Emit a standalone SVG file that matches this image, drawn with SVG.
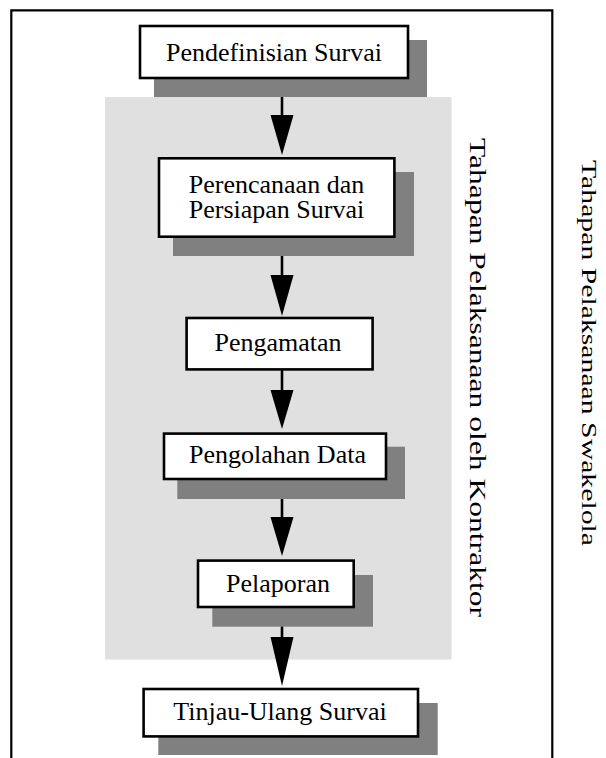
<svg xmlns="http://www.w3.org/2000/svg" width="606" height="758" viewBox="0 0 606 758">
  <style>
    .box { fill: #ffffff; stroke: #000000; stroke-width: 2.6; }
    .shadow { fill: #808080; }
    .label { font-family: "Liberation Serif", "Times New Roman", serif; font-size: 26px; fill: #000000; text-anchor: middle; }
    .side { font-family: "Liberation Serif", "Times New Roman", serif; fill: #000000; }
    .conn { stroke: #000000; stroke-width: 2.6; fill: none; }
    .head { fill: #000000; }
  </style>

  <rect width="606" height="758" fill="#ffffff"/>

  <!-- outer frame, open at the bottom -->
  <path id="frame" d="M11.3 758 V10.3 H552.3 V758" fill="none" stroke="#000000" stroke-width="2.2"/>

  <!-- contractor phase panel -->
  <rect id="contractor-panel" x="105" y="97" width="346.5" height="562.5" fill="#e0e0e0"/>

  <!-- side captions -->
  <text class="side" font-size="24" textLength="479" lengthAdjust="spacingAndGlyphs" transform="translate(469.5,138) rotate(90)">Tahapan Pelaksanaan oleh Kontraktor</text>
  <text class="side" font-size="22" textLength="386" lengthAdjust="spacingAndGlyphs" transform="translate(582,160) rotate(90)">Tahapan Pelaksanaan Swakelola</text>

  <g id="connectors">
    <line class="conn" x1="282" y1="97" x2="282" y2="116"/>
    <polygon class="head" points="270.5,115 293.5,115 282,155"/>
    <line class="conn" x1="282" y1="256" x2="282" y2="276"/>
    <polygon class="head" points="270.5,275 293.5,275 282,316"/>
    <line class="conn" x1="282" y1="370" x2="282" y2="391"/>
    <polygon class="head" points="270.5,390 293.5,390 282,429"/>
    <line class="conn" x1="282" y1="499" x2="282" y2="518"/>
    <polygon class="head" points="270.5,517 293.5,517 282,556"/>
    <line class="conn" x1="282" y1="626" x2="282" y2="638"/>
    <polygon class="head" points="270.5,637 293.5,637 282,686"/>
  </g>

  <g id="pendefinisian">
    <rect class="shadow" x="154" y="40" width="273" height="57"/>
    <rect class="box" x="140" y="26" width="268" height="52"/>
    <text class="label" x="274" y="61">Pendefinisian Survai</text>
  </g>

  <g id="perencanaan">
    <rect class="shadow" x="173" y="172" width="241" height="84"/>
    <rect class="box" x="159" y="158.3" width="235.4" height="78.4"/>
    <text class="label" x="276.5" y="192.7">Perencanaan dan</text>
    <text class="label" x="276.5" y="217.7">Persiapan Survai</text>
  </g>

  <g id="pengamatan">
    <rect class="box" x="186.6" y="318" width="186" height="51.4"/>
    <text class="label" x="278" y="351">Pengamatan</text>
  </g>

  <g id="pengolahan">
    <rect class="shadow" x="177.3" y="446.7" width="227.7" height="52.3"/>
    <rect class="box" x="164" y="433.6" width="222" height="45.4"/>
    <text class="label" x="277.5" y="463.3">Pengolahan Data</text>
  </g>

  <g id="pelaporan">
    <rect class="shadow" x="212.3" y="575" width="160.7" height="51.7"/>
    <rect class="box" x="198" y="560.6" width="155.7" height="46.4"/>
    <text class="label" x="278" y="591.7">Pelaporan</text>
  </g>

  <g id="tinjau-ulang">
    <rect class="shadow" x="158.3" y="703" width="279.4" height="52"/>
    <rect class="box" x="143.6" y="689" width="274.4" height="47.4"/>
    <text class="label" x="280" y="720">Tinjau-Ulang Survai</text>
  </g>
</svg>
